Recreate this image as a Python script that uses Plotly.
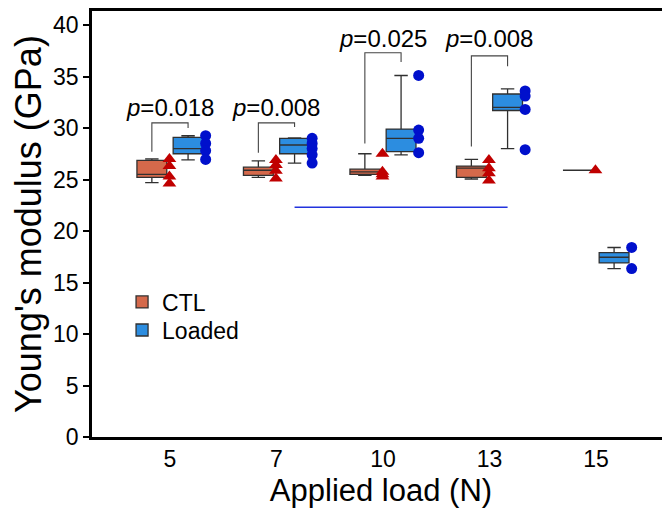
import plotly.graph_objects as go

# ---------------- data ----------------
loads = ["5", "7", "10", "13", "15"]

ctl_q1 = [25.2, 25.4, 25.5, 25.2, 25.9]
ctl_median = [25.5, 25.9, 25.75, 26.1, 25.9]
ctl_q3 = [26.85, 26.2, 26.0, 26.3, 25.9]
ctl_low = [24.7, 25.2, 25.4, 25.05, 25.9]
ctl_high = [27.0, 26.8, 27.5, 26.95, 25.9]

loaded_q1 = [27.5, 27.5, 27.7, 31.7, 16.9]
loaded_median = [28.0, 28.35, 29.0, 32.0, 17.45]
loaded_q3 = [29.1, 29.0, 29.9, 33.3, 17.9]
loaded_low = [26.9, 26.6, 27.4, 28.0, 16.35]
loaded_high = [29.25, 29.05, 35.1, 33.8, 18.4]

ctl_points = [[27.0, 26.3, 25.3, 24.6],
              [26.9, 26.4, 25.85, 25.1],
              [27.5, 25.75, 25.5, 25.3],
              [26.9, 26.1, 25.6, 24.9],
              [25.9]]
loaded_points = [[29.25, 28.5, 27.8, 26.95],
                 [29.0, 28.5, 28.0, 27.4, 26.6],
                 [35.1, 29.8, 29.0, 27.6],
                 [33.6, 33.1, 31.8, 27.9],
                 [18.4, 16.35]]

p_values = ["0.018", "0.008", "0.025", "0.008"]
bracket_top = [30.5, 30.5, 37.3, 37.0]
bracket_left_end = [27.7, 27.6, 28.5, 28.2]
bracket_right_end = [30.0, 30.1, 36.4, 36.0]
p_label_y = [32.0, 32.0, 38.7, 38.7]

ref_line_value = 22.3  # horizontal blue line (from 7 N Loaded to 13 N Loaded)

# ---------------- layout constants ----------------
OFF = 0.17
BOXW = 0.28
PT_OFF = 0.165
groups = list(range(len(loads)))
ctl_pos = [g - OFF for g in groups]
loaded_pos = [g + OFF for g in groups]

CTL_FILL = "#d4694b"
LOADED_FILL = "#2c8de0"
BOX_LINE = "#303030"
FONT = "Liberation Sans, Arial, sans-serif"

fig = go.Figure()

fig.add_trace(go.Box(
    name="CTL", x=ctl_pos, q1=ctl_q1, median=ctl_median, q3=ctl_q3,
    lowerfence=ctl_low, upperfence=ctl_high, width=BOXW,
    fillcolor=CTL_FILL, line=dict(color=BOX_LINE, width=1.3),
    boxpoints=False, whiskerwidth=0.45, hoverinfo="skip", legend="legend"))
fig.add_trace(go.Box(
    name="Loaded", x=loaded_pos, q1=loaded_q1, median=loaded_median, q3=loaded_q3,
    lowerfence=loaded_low, upperfence=loaded_high, width=BOXW,
    fillcolor=LOADED_FILL, line=dict(color=BOX_LINE, width=1.3),
    boxpoints=False, whiskerwidth=0.45, hoverinfo="skip", legend="legend2"))

# individual points
cx, cy, lx, ly = [], [], [], []
for g in groups:
    for v in ctl_points[g]:
        cx.append(ctl_pos[g] + PT_OFF)
        cy.append(v)
    for v in loaded_points[g]:
        lx.append(loaded_pos[g] + PT_OFF)
        ly.append(v)
fig.add_trace(go.Scatter(x=cx, y=cy, mode="markers", showlegend=False,
                         marker=dict(symbol="triangle-up", size=12, color="#c00000")))
fig.add_trace(go.Scatter(x=lx, y=ly, mode="markers", showlegend=False,
                         marker=dict(symbol="circle", size=11, color="#0010cc")))

# blue reference line
fig.add_trace(go.Scatter(x=[loaded_pos[1], loaded_pos[3]], y=[ref_line_value, ref_line_value],
                         mode="lines", showlegend=False,
                         line=dict(color="#2233dd", width=1.6)))

# significance brackets
shapes = []
annotations = []
for i, p in enumerate(p_values):
    x0, x1 = ctl_pos[i], loaded_pos[i]
    shapes.append(dict(type="path", xref="x", yref="y",
                       path=f"M {x0},{bracket_left_end[i]} L {x0},{bracket_top[i]} "
                            f"L {x1},{bracket_top[i]} L {x1},{bracket_right_end[i]}",
                       line=dict(color="#444444", width=1.1)))
    annotations.append(dict(x=groups[i], y=p_label_y[i], xref="x", yref="y",
                            text=f"<i>p</i>=" + p, showarrow=False,
                            font=dict(size=24, color="black", family=FONT),
                            xanchor="center", yanchor="middle"))

legend_common = dict(x=0.052, xanchor="left", yanchor="middle",
                     font=dict(size=23, family=FONT), bgcolor="rgba(0,0,0,0)")

fig.update_layout(
    width=662, height=503,
    margin=dict(l=84, r=0, t=3, b=74),
    paper_bgcolor="white", plot_bgcolor="white",
    font=dict(family=FONT, color="black"),
    boxmode="overlay",
    shapes=shapes, annotations=annotations,
    showlegend=True,
    legend=dict(y=0.317, **legend_common),
    legend2=dict(y=0.251, **legend_common),
    xaxis=dict(range=[-0.732, 4.695], tickmode="array", tickvals=groups, ticktext=loads,
               showline=True, linecolor="black", linewidth=2.5, mirror=True,
               ticks="", showgrid=False, zeroline=False, automargin=False,
               tickfont=dict(size=23, family=FONT),
               title=dict(text="Applied load (N)", font=dict(size=31, family=FONT), standoff=8)),
    yaxis=dict(range=[0, 41.36], tickmode="array", tickvals=list(range(0, 41, 5)),
               showline=True, linecolor="black", linewidth=2.5,
               ticks="outside", ticklen=6, tickwidth=2, tickcolor="black",
               showgrid=False, zeroline=False, automargin=False,
               tickfont=dict(size=23, family=FONT),
               title=dict(text="Young's modulus (GPa)", font=dict(size=36, family=FONT), standoff=4)),
)

fig.write_html("out.html")
